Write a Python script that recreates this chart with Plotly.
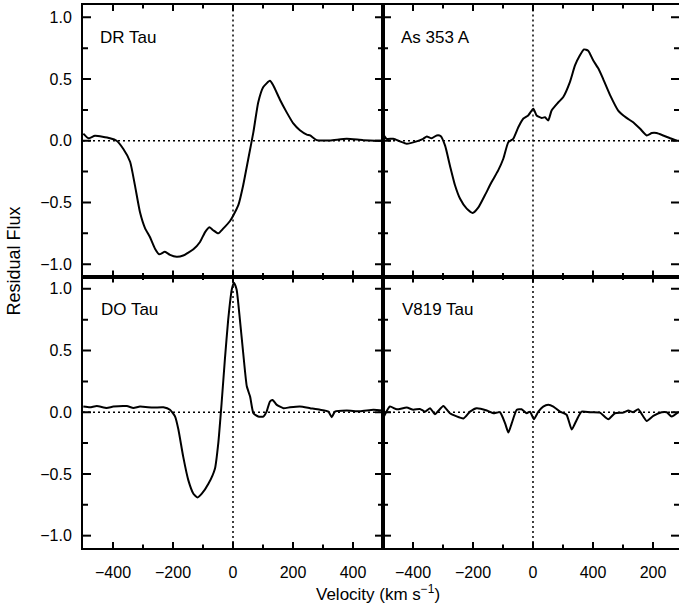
import plotly.graph_objects as go

# ---------------- data ----------------
dr_v = [-499, -482, -460, -410, -388, -366, -343, -327, -310, -293, -277, -260, -246, -227,
        -210, -188, -166, -132, -110, -93, -79, -66, -49, -32, -10, 1, 18, 34, 51, 68, 84,
        101, 123, 134, 157, 179, 201, 223, 246, 257, 279, 323, 379, 434, 501]
dr_f = [0.057, 0.02, 0.04, 0.02, 0.0, -0.065, -0.17, -0.36, -0.58, -0.71, -0.78, -0.875, -0.92,
        -0.90, -0.925, -0.94, -0.93, -0.88, -0.82, -0.74, -0.70, -0.725, -0.75, -0.71, -0.65,
        -0.605, -0.52, -0.36, -0.146, 0.07, 0.31, 0.435, 0.486, 0.45, 0.33, 0.23, 0.14, 0.085,
        0.05, 0.043, 0.005, 0.003, 0.016, 0.005, 0.0]

as_v = [-499, -488, -466, -443, -421, -388, -366, -354, -338, -321, -308, -293, -277, -260,
        -243, -221, -201, -182, -160, -138, -116, -99, -82, -66, -49, -32, -16, 1, 12, 29,
        40, 51, 62, 84, 101, 123, 140, 156, 170, 184, 201, 218, 234, 257, 284, 312, 334, 357,
        379, 396, 412, 434, 457, 479]
as_f = [0.05, 0.016, 0.016, -0.005, -0.024, -0.005, 0.016, 0.035, 0.02, 0.043, 0.038, -0.04,
        -0.2, -0.36, -0.47, -0.55, -0.585, -0.54, -0.44, -0.335, -0.24, -0.146, -0.01, 0.016,
        0.11, 0.18, 0.205, 0.26, 0.205, 0.185, 0.19, 0.165, 0.245, 0.31, 0.355, 0.475, 0.61,
        0.69, 0.74, 0.73, 0.65, 0.585, 0.5, 0.37, 0.245, 0.185, 0.15, 0.097, 0.043, 0.062,
        0.062, 0.043, 0.02, 0.0]

do_v = [-499, -477, -454, -421, -399, -354, -332, -310, -266, -232, -210, -193, -182, -166,
        -149, -132, -118, -104, -82, -60, -49, -38, -27, -16, -4, 3, 12, 23, 34, 46, 57, 68,
        84, 101, 112, 123, 132, 146, 168, 190, 223, 257, 290, 318, 329, 340, 379, 423, 468, 501]
do_f = [0.046, 0.04, 0.05, 0.035, 0.046, 0.05, 0.035, 0.046, 0.038, 0.04, 0.02, -0.035, -0.14,
        -0.36, -0.55, -0.66, -0.69, -0.66, -0.58, -0.455, -0.25, 0.073, 0.43, 0.75, 0.995,
        1.05, 0.995, 0.75, 0.48, 0.21, 0.127, -0.008, -0.035, -0.035, 0.005, 0.087, 0.10,
        0.06, 0.033, 0.04, 0.046, 0.033, 0.02, 0.005, -0.04, 0.005, 0.014, 0.008, 0.02, 0.014]

v8_v = [-497, -477, -454, -421, -399, -377, -360, -343, -327, -299, -277, -232, -210, -188,
        -154, -132, -110, -93, -82, -71, -54, -38, -21, -10, 3, 18, 34, 51, 68, 90, 112, 129,
        146, 162, 190, 223, 251, 273, 301, 318, 334, 351, 379, 401, 429, 446, 462, 484]
v8_f = [-0.035, 0.046, 0.024, 0.038, 0.02, 0.027, 0.005, 0.033, -0.016, 0.05, -0.008, -0.05,
        0.005, 0.033, 0.014, -0.008, 0.0, -0.09, -0.165, -0.09, 0.02, 0.024, -0.008, 0.005,
        -0.057, 0.005, 0.046, 0.06, 0.046, 0.005, -0.02, -0.14, -0.06, 0.005, 0.0, -0.003,
        -0.057, -0.008, -0.003, 0.014, 0.0, 0.024, -0.07, -0.03, 0.0, 0.0, -0.035, 0.0]

panel_names = ["DR Tau", "As 353 A", "DO Tau", "V819 Tau"]
y_ticks = [-1.0, -0.5, 0.0, 0.5, 1.0]
y_minor = [-0.75, -0.25, 0.25, 0.75]
y_ticktext = ["\u22121.0", "\u22120.5", "0.0", "0.5", "1.0"]
x_ticks = [-400, -200, 0, 200, 400]
x_minor = [-300, -100, 100, 300]
x_ticktext_left = ["\u2212400", "\u2212200", "0", "200", "400"]
x_ticktext_right = ["\u2212400", "\u2212200", "0", "400", "200"]

# ---------------- figure ----------------
FONT = "Liberation Sans, Arial, Helvetica, sans-serif"
fig = go.Figure()

d = 300 / 596.0
h = 0.5
YR = (-1.1, 1.1)
XPX = 0.3      # pixels per km/s
YPX = 123.4    # pixels per flux unit

panels = [("x", "y", -500, 500), ("x2", "y2", -500, 486.7),
          ("x3", "y3", -500, 500), ("x4", "y4", -500, 486.7)]

# dotted reference lines (under the curves)
for xa, ya, x0, x1 in panels:
    fig.add_trace(go.Scatter(x=[x0, x1, None, 0, 0], y=[0, 0, None, YR[0], YR[1]],
                             xaxis=xa, yaxis=ya, mode="lines",
                             line=dict(color="black", width=1.5, dash="2px,3px"),
                             showlegend=False, hoverinfo="skip", cliponaxis=False))

series = [(dr_v, dr_f, "x3", "y3"), (as_v, as_f, "x4", "y4"),
          (do_v, do_f, "x", "y"), (v8_v, v8_f, "x2", "y2")]
for v, f, xa, ya in series:
    fig.add_trace(go.Scatter(x=v, y=f, xaxis=xa, yaxis=ya, mode="lines",
                             line=dict(color="black", width=2, shape="spline", smoothing=0.5),
                             showlegend=False, hoverinfo="skip"))

# tick marks drawn inside on all four sides of every panel
for xa, ya, x0, x1 in panels:
    tx, ty = [], []
    for vals, ln in [(x_ticks, 6), (x_minor, 3.5)]:
        for v in vals:
            if v >= x1:
                continue
            dy = ln / YPX
            tx += [v, v, None, v, v, None]
            ty += [YR[0], YR[0] + dy, None, YR[1], YR[1] - dy, None]
    for vals, ln in [(y_ticks, 8), (y_minor, 5)]:
        for v in vals:
            dx = ln / XPX
            tx += [x0, x0 + dx, None, x1, x1 - dx, None]
            ty += [v, v, None, v, v, None]
    fig.add_trace(go.Scatter(x=tx, y=ty, xaxis=xa, yaxis=ya, mode="lines",
                             line=dict(color="black", width=2),
                             showlegend=False, hoverinfo="skip", cliponaxis=False))


def ax(**kw):
    base = dict(showline=True, linecolor="black", linewidth=2, mirror=True,
                ticks="", showgrid=False, zeroline=False, layer="below traces",
                tickfont=dict(family=FONT, size=16, color="black"))
    base.update(kw)
    return base


fig.update_layout(template="none")
fig.update_layout(
    xaxis=ax(domain=[0, d], anchor="y", range=[-500, 500], tickmode="array",
             tickvals=x_ticks, ticktext=x_ticktext_left, ticklabelstandoff=9),
    xaxis2=ax(domain=[d, 1], anchor="y2", range=[-500, 486.7], tickmode="array",
              tickvals=x_ticks, ticktext=x_ticktext_right, ticklabelstandoff=9),
    xaxis3=ax(domain=[0, d], anchor="y3", range=[-500, 500], showticklabels=False),
    xaxis4=ax(domain=[d, 1], anchor="y4", range=[-500, 486.7], showticklabels=False),
    yaxis=ax(domain=[0, h], anchor="x", range=list(YR), tickmode="array",
             tickvals=y_ticks, ticktext=y_ticktext, ticklabelstandoff=6),
    yaxis2=ax(domain=[0, h], anchor="x2", range=list(YR), showticklabels=False),
    yaxis3=ax(domain=[h, 1], anchor="x3", range=list(YR), tickmode="array",
              tickvals=y_ticks, ticktext=y_ticktext, ticklabelstandoff=6),
    yaxis4=ax(domain=[h, 1], anchor="x4", range=list(YR), showticklabels=False),
    width=679, height=609,
    margin=dict(l=83, r=0, t=5, b=61),
    paper_bgcolor="white", plot_bgcolor="white",
    font=dict(family=FONT, color="black"),
)

# panel labels
annots = []
for name, xa, ya, xp in [(panel_names[0], "x3", "y3", 0.05), (panel_names[1], "x4", "y4", 0.054),
                         (panel_names[2], "x", "y", 0.053), (panel_names[3], "x2", "y2", 0.057)]:
    annots.append(dict(text=name, xref=xa + " domain", yref=ya + " domain", x=xp, y=0.88,
                       xanchor="left", yanchor="middle", showarrow=False,
                       font=dict(family=FONT, size=17, color="black")))

annots.append(dict(text="Residual Flux", xref="paper", yref="paper", x=-0.115, y=0.5285,
                   xanchor="center", yanchor="middle", textangle=-90, showarrow=False,
                   font=dict(family=FONT, size=18, color="black")))
annots.append(dict(text="Velocity (km s<sup>\u22121</sup>)", xref="paper", yref="paper",
                   x=0.495, y=-0.083, xanchor="center", yanchor="middle", showarrow=False,
                   font=dict(family=FONT, size=17, color="black")))
fig.update_layout(annotations=annots)

fig.write_html("out.html")
